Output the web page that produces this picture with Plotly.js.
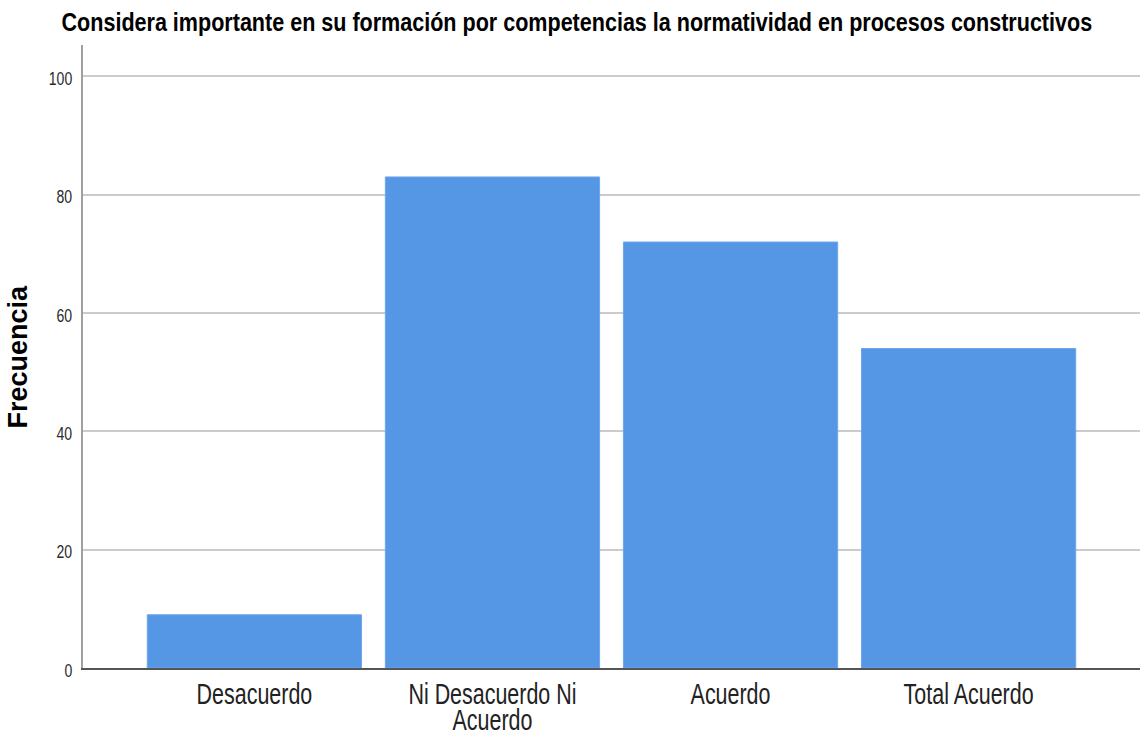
<!DOCTYPE html>
<html>
<head>
<meta charset="utf-8">
<script src="https://cdn.plot.ly/plotly-3.0.1.min.js"></script>
<style>
  html, body { margin: 0; padding: 0; background: #fff; }
  #chart { width: 1140px; height: 734px; }
</style>
</head>
<body>
<div id="chart"></div>
<script>
// valores
var categorias = ['Desacuerdo', 'Ni Desacuerdo Ni<br>Acuerdo', 'Acuerdo', 'Total Acuerdo']
var frecuencias = [9, 83, 72, 54]
var ticksY = [0, 20, 40, 60, 80, 100]

var fuente = '"Liberation Sans", Arial, sans-serif'

var trace = {
    type: 'bar',
    x: categorias,
    y: frecuencias,
    marker: {
        color: '#5596e5',
        line: {color: '#6fa6ea', width: 1}
    },
    hoverinfo: 'x+y'
}

var layout = {
    width: 1140,
    height: 734,
    paper_bgcolor: '#ffffff',
    plot_bgcolor: '#ffffff',
    margin: {l: 83, r: 0, t: 45, b: 66},
    bargap: 0.1,
    showlegend: false,
    title: {
        text: '<b>Considera importante en su formación por competencias la normatividad en procesos constructivos</b>',
        font: {family: fuente, size: 25, color: '#000'},
        x: 0.506,
        xref: 'container',
        xanchor: 'center',
        y: 0.969,
        yref: 'container',
        yanchor: 'middle'
    },
    xaxis: {
        type: 'category',
        range: [-0.72, 3.72],
        showgrid: false,
        showline: true,
        linecolor: '#555555',
        linewidth: 1.5,
        ticks: '',
        ticklabelstandoff: 0,
        tickfont: {family: fuente, size: 29, color: '#222'},
        fixedrange: true
    },
    yaxis: {
        range: [0, 105.3],
        tickvals: ticksY,
        ticks: '',
        showgrid: true,
        gridcolor: '#cbcbcb',
        gridwidth: 2,
        zeroline: false,
        showline: true,
        linecolor: '#a0a0a0',
        linewidth: 2,
        tickfont: {family: fuente, size: 19, color: '#2a2a2a'},
        ticklabelstandoff: 5,
        fixedrange: true
    },
    annotations: [{
        text: '<b>Frecuencia</b>',
        xref: 'paper', yref: 'paper',
        x: -0.0615, y: 0.5,
        xanchor: 'center', yanchor: 'middle',
        textangle: -90,
        showarrow: false,
        font: {family: fuente, size: 27, color: '#000'}
    }]
}

// la figura original tiene el texto estrecho: se comprime en horizontal
function squeeze(sel, s, dy, shiftY) {
    document.querySelectorAll(sel).forEach(t => {
        var x = parseFloat(t.getAttribute('x')) || 0
        var prev = t.getAttribute('transform') || ''
        t.setAttribute('transform', prev + ' translate(' + x + ',' + (shiftY || 0) + ') scale(' + s + ',1) translate(' + (-x) + ',0)')
        if (dy) {
            t.querySelectorAll('tspan.line').forEach((ts, i) => {
                if (i > 0) ts.setAttribute('dy', dy)
            })
        }
    })
}

Plotly.newPlot('chart', [trace], layout, {displayModeBar: false, staticPlot: true}).then(() => {
    squeeze('.gtitle', 0.862)
    squeeze('.xtick text', 0.74, '0.9em', 0)
    squeeze('.ytick text', 0.74, null, 2)
})
</script>
</body>
</html>
